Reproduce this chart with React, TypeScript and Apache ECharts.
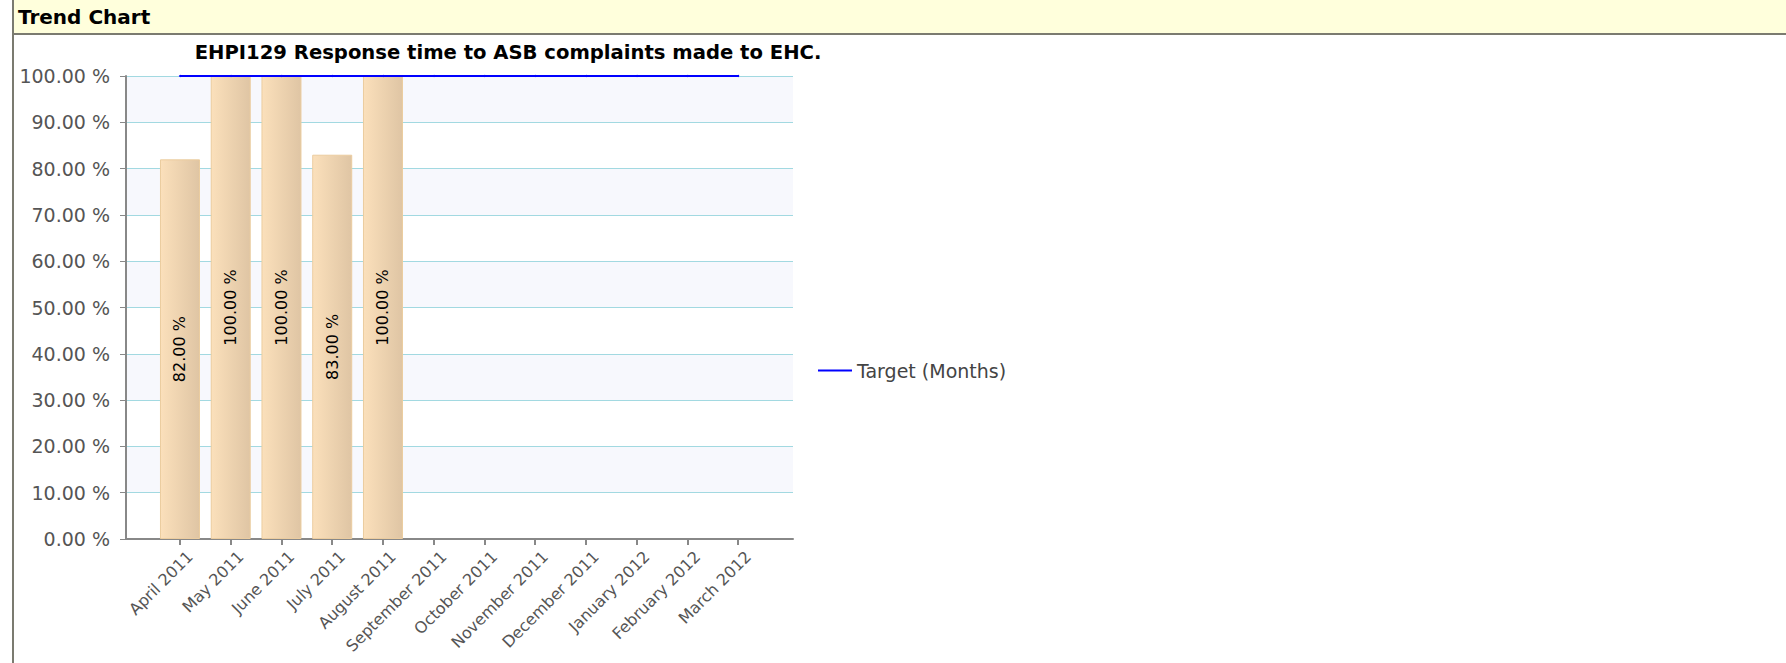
import React, { useEffect, useRef } from 'react';
import * as echarts from 'echarts';

const headerText = 'Trend Chart';
const chartTitle = 'EHPI129 Response time to ASB complaints made to EHC.';
const categories = [
  'April 2011', 'May 2011', 'June 2011', 'July 2011', 'August 2011', 'September 2011',
  'October 2011', 'November 2011', 'December 2011', 'January 2012', 'February 2012', 'March 2012',
];
const actualValues: (number | null)[] = [82, 100, 100, 83, 100, null, null, null, null, null, null, null];
const targetName = 'Target (Months)';
const targetValues = [100, 100, 100, 100, 100, 100, 100, 100, 100, 100, 100, 100];
const yMin = 0;
const yMax = 100;
const yInterval = 10;

const FONT = 'DejaVu Sans';

export default function App() {
  const ref = useRef<HTMLDivElement>(null);
  useEffect(() => {
    if (!ref.current) return;
    const chart = echarts.init(ref.current, null, { renderer: 'svg' });
    const option: any = {
      animation: false,
      textStyle: { fontFamily: FONT },
      graphic: [
        { type: 'rect', silent: true, shape: { x: 14, y: 0, width: 1772, height: 33 }, style: { fill: '#ffffdc' } },
        { type: 'line', silent: true, shape: { x1: 12, y1: 34, x2: 1786, y2: 34 }, style: { stroke: '#7b7b70', lineWidth: 2 } },
        { type: 'line', silent: true, shape: { x1: 13, y1: 0, x2: 13, y2: 663 }, style: { stroke: '#7b7b70', lineWidth: 2 } },
        {
          type: 'text', x: 18, y: 17,
          style: { text: headerText, fontSize: 20, fontWeight: 'bold', fontFamily: FONT, fill: '#000', align: 'left', verticalAlign: 'middle' },
        },
        {
          type: 'text', x: 508, y: 52,
          style: { text: chartTitle, fontSize: 19.6, fontWeight: 'bold', fontFamily: FONT, fill: '#000', align: 'center', verticalAlign: 'middle' },
        },
      ],
      legend: {
        data: [targetName],
        left: 818,
        top: 361,
        padding: 0,
        icon: 'rect',
        itemWidth: 34,
        itemHeight: 2,
        textStyle: { fontSize: 19, color: '#444', fontFamily: FONT },
      },
      grid: [
        { left: 126, top: 76, width: 667, height: 463 },
        { left: 154.6, top: 76, width: 609, height: 463 },
        { left: 164.6, top: 76, width: 609, height: 463 },
      ],
      xAxis: [
        {
          gridIndex: 0, type: 'value', min: 0, max: 1,
          axisLine: { show: true, lineStyle: { color: '#888', width: 2 } },
          axisTick: { show: false }, axisLabel: { show: false }, splitLine: { show: false },
        },
        {
          gridIndex: 1, type: 'category', data: categories, boundaryGap: true,
          axisLine: { show: false },
          axisTick: { show: true, interval: 0, alignWithLabel: true, length: 6, lineStyle: { color: '#888', width: 2 } },
          axisLabel: { show: false, interval: 0 },
        },
        {
          gridIndex: 2, type: 'category', data: categories, boundaryGap: true,
          axisLine: { show: false },
          axisTick: { show: false },
          axisLabel: { rotate: 45, interval: 0, fontSize: 16, color: '#555', margin: 15, fontFamily: FONT },
        },
      ],
      yAxis: [
        {
          gridIndex: 0, type: 'value', min: yMin, max: yMax, interval: yInterval,
          axisLine: { show: true, lineStyle: { color: '#888', width: 2 } },
          axisTick: { show: true, length: 6, lineStyle: { color: '#888', width: 1 } },
          axisLabel: { formatter: (v: number) => v.toFixed(2) + ' %', fontSize: 19, color: '#555', margin: 16, fontFamily: FONT },
          splitLine: { show: true, lineStyle: { color: '#a2d9e1', width: 1 } },
          splitArea: { show: true, areaStyle: { color: ['#ffffff', '#f7f8fd'] } },
        },
        { gridIndex: 1, type: 'value', min: yMin, max: yMax, show: false },
        { gridIndex: 2, type: 'value', min: yMin, max: yMax, show: false },
      ],
      series: [
        {
          type: 'bar', name: 'Actual', xAxisIndex: 1, yAxisIndex: 1, data: actualValues, barWidth: 40,
          itemStyle: {
            color: new echarts.graphic.LinearGradient(0, 0, 1, 0, [
              { offset: 0, color: '#fbe0bb' },
              { offset: 1, color: '#dfc5a4' },
            ]),
            borderColor: '#ebcc9f', borderWidth: 1,
          },
          label: {
            show: true, position: 'inside', rotate: 90,
            formatter: (p: any) => (p.value == null ? '' : Number(p.value).toFixed(2) + ' %'),
            fontSize: 16, color: '#000', fontFamily: FONT,
          },
        },
        {
          type: 'line', name: targetName, xAxisIndex: 1, yAxisIndex: 1, data: targetValues,
          lineStyle: { color: '#0000ff', width: 2 }, itemStyle: { color: '#0000ff' },
          symbol: 'circle', symbolSize: 2, showSymbol: true, z: 5,
        },
      ],
    };
    chart.setOption(option);
    return () => chart.dispose();
  }, []);
  return <div ref={ref} style={{ position: 'absolute', left: 0, top: 0, width: 1786, height: 663 }} />;
}
